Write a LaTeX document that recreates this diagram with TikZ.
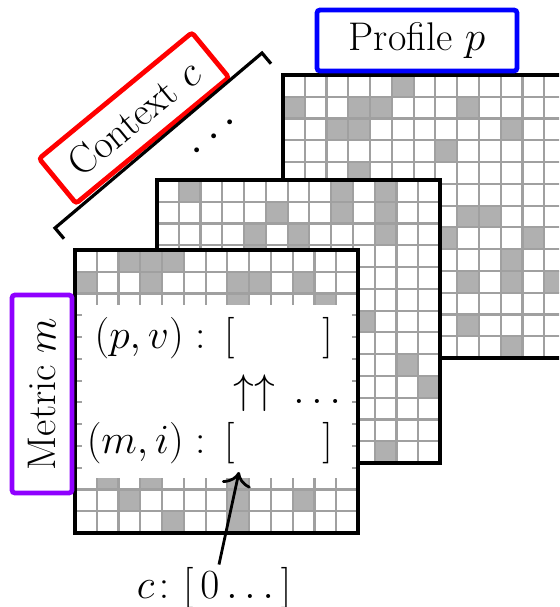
\documentclass[tikz,border=0pt]{standalone}
\usepackage{xcolor}
\usepackage{amsmath}
\usepackage{amssymb}
\usepackage{tikz}
\usetikzlibrary{positioning,arrows.meta,calc}
\definecolor{ctxred}{RGB}{255,0,0}
\definecolor{profblue}{RGB}{0,0,255}
\definecolor{metricviolet}{RGB}{143,0,255}
\definecolor{cellgray}{RGB}{176,176,176}
\definecolor{gridgray}{RGB}{160,160,160}
\newcommand{\cellw}{21.77}
% one 13x13 sheet: top-left corner, then the shaded cells as col/row
\newcommand{\sheetat}[3]{%
    \begin{scope}[shift={(#1,#2)}]
        \fill[white] (0,0) rectangle (13*\cellw,13*\cellw);
        \foreach \cx/\cy in {#3}
            \fill[cellfill] (\cx*\cellw,\cy*\cellw) rectangle ++(\cellw,\cellw);
        \foreach \k in {1,...,12} {
            \draw[cellline] (\k*\cellw,0) -- ++(0,13*\cellw);
            \draw[cellline] (0,\k*\cellw) -- ++(13*\cellw,0);
        }
        \draw[sheet] (0,0) rectangle (13*\cellw,13*\cellw);
    \end{scope}%
}
\tikzset{
    sheet/.style={
        draw=black,
        line width=2pt
    },
    cellline/.style={
        draw=gridgray,
        line width=1.1pt
    },
    cellfill/.style={
        fill=cellgray
    },
    tag/.style={
        draw,
        rectangle,
        rounded corners=1.5pt,
        line width=2.4pt,
        fill=white,
        inner sep=0pt,
        align=center,
        font=\fontsize{20}{24}\selectfont
    },
    vec/.style={
        inner sep=0pt,
        font=\fontsize{20}{24}\selectfont
    },
    brace/.style={
        draw,
        line width=1.6pt
    },
    pointer/.style={
        draw,
        -{To[scale=1.5]},
        line width=1.4pt
    }
}

\begin{document}
\begin{tikzpicture}[x=0.5pt,y=-0.5pt]
    \useasboundingbox (0,0) rectangle (559,607);
    \clip (0,0) rectangle (559,607);

    \sheetat{283}{75}{5/0,0/1,3/1,4/1,8/1,2/2,3/2,10/2,7/3,3/4,8/6,9/6,7/7,11/7,10/8,8/9,10/9,12/9,8/11,10/12}
    \sheetat{157}{180}{1/0,8/0,10/0,5/1,8/1,10/1,4/2,6/2,10/2,4/3,6/3,9/6,11/8,12/9,10/12}
    \sheetat{75}{250}{2/0,3/0,4/0,0/1,3/1,7/1,8/1,10/1,7/2,11/2,1/10,3/10,7/10,2/11,7/11,10/11,4/12,7/12}
    \fill[white] (82,305) rectangle (352,478);

    \node[tag, draw=profblue, minimum width=100pt, minimum height=30.5pt] (profile) at (417,40.5) {Profile $p$};
    \node[tag, draw=ctxred, rotate=39.5, minimum width=99pt, minimum height=29pt] (context) at (134,118) {Context $c$};
    \node[tag, draw=metricviolet, rotate=90, minimum width=99pt, minimum height=30pt] (metric) at (42,394) {Metric $m$};

    \coordinate (brlo) at (55,228);
    \coordinate (brhi) at (262,53);
    \path[brace] ($(brlo)+(9,10.7)$) -- (brlo) -- (brhi) -- ($(brhi)+(9,10.7)$);
    \node[vec, font=\fontsize{24}{28}\selectfont, rotate=40] (more) at (217,134) {$\dots$};

    \node[vec, anchor=base east] (pvkey) at (206,348) {$(p,v)\mathrel{:}$};
    \node[vec, anchor=base] (pvvec) at (278.5,348) {$[\hspace{44pt}]$};
    \node[vec, anchor=base west] (ups) at (233,403) {$\uparrow\uparrow\,\dots$};
    \node[vec, anchor=base east] (mikey) at (206,453) {$(m,i)\mathrel{:}$};
    \node[vec, anchor=base] (mivec) at (278.5,453) {$[\hspace{44pt}]$};
    \coordinate (mislot) at (239,472);

    \node[vec, inner sep=1pt, anchor=base] (cvec) at (214,598) {$c\colon[\,0\dots]$};
    \path[pointer] (cvec) -- (mislot);
\end{tikzpicture}
\end{document}
